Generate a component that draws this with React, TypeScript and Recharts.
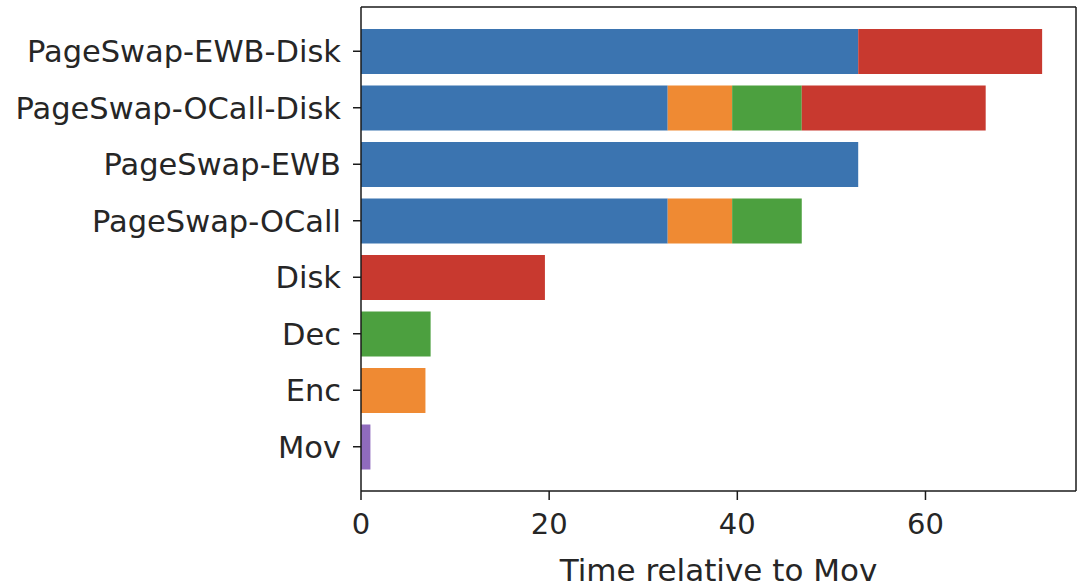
import React from 'react';
import { ComposedChart, Bar, XAxis, YAxis, Label, CartesianGrid } from 'recharts';

const categories = ['PageSwap-EWB-Disk', 'PageSwap-OCall-Disk', 'PageSwap-EWB', 'PageSwap-OCall', 'Disk', 'Dec', 'Enc', 'Mov'];
const pageSwapValues = [52.85, 32.6, 52.85, 32.6, 0, 0, 0, 0];
const encValues = [0, 6.85, 0, 6.85, 0, 0, 6.85, 0];
const decValues = [0, 7.4, 0, 7.4, 0, 7.4, 0, 0];
const diskValues = [19.55, 19.55, 0, 0, 19.55, 0, 0, 0];
const movValues = [0, 0, 0, 0, 0, 0, 0, 1];
const xTicks = [0, 20, 40, 60];

const data = categories.map((name, i) => ({
  name,
  pageswap: pageSwapValues[i],
  enc: encValues[i],
  dec: decValues[i],
  disk: diskValues[i],
  mov: movValues[i],
}));

const FONT = 'DejaVu Sans';
const TEXT = '#262626';
const AXIS = '#1a1a1a';

export default function App() {
  return (
    <div style={{ position: 'absolute', left: 0, top: 0, width: 1082, height: 584, background: '#fff' }}>
      <ComposedChart
        width={1082}
        height={584}
        data={data}
        layout="vertical"
        margin={{ top: 7, right: 6, left: 0, bottom: 0 }}
        barGap={0}
      >
        <CartesianGrid
          stroke={AXIS}
          strokeWidth={1.5}
          horizontalCoordinatesGenerator={(p: any) => [p.offset.top]}
          verticalCoordinatesGenerator={(p: any) => [p.offset.left + p.offset.width]}
        />
        <XAxis
          type="number"
          domain={[0, 76]}
          ticks={xTicks}
          allowDataOverflow
          height={93}
          tickSize={9}
          tickMargin={13}
          stroke={AXIS}
          strokeWidth={1.5}
          tick={{ fill: TEXT, fontSize: 29, fontFamily: FONT }}
        >
          <Label
            value="Time relative to Mov"
            position="insideBottom"
            offset={3}
            style={{ fill: TEXT, fontSize: 31, fontFamily: FONT }}
          />
        </XAxis>
        <YAxis
          type="category"
          dataKey="name"
          width={361}
          padding={{ top: 16, bottom: 16 }}
          tickSize={8}
          tickMargin={12}
          stroke={AXIS}
          strokeWidth={1.5}
          interval={0}
          tick={{ fill: TEXT, fontSize: 30.5, fontFamily: FONT }}
        />
        <Bar dataKey="pageswap" stackId="s" fill="#3b74b0" barSize={45} isAnimationActive={false} />
        <Bar dataKey="enc" stackId="s" fill="#ef8a33" barSize={45} isAnimationActive={false} />
        <Bar dataKey="dec" stackId="s" fill="#4ca03f" barSize={45} isAnimationActive={false} />
        <Bar dataKey="disk" stackId="s" fill="#c8392f" barSize={45} isAnimationActive={false} />
        <Bar dataKey="mov" stackId="s" fill="#8f6bbd" barSize={45} isAnimationActive={false} />
      </ComposedChart>
    </div>
  );
}
